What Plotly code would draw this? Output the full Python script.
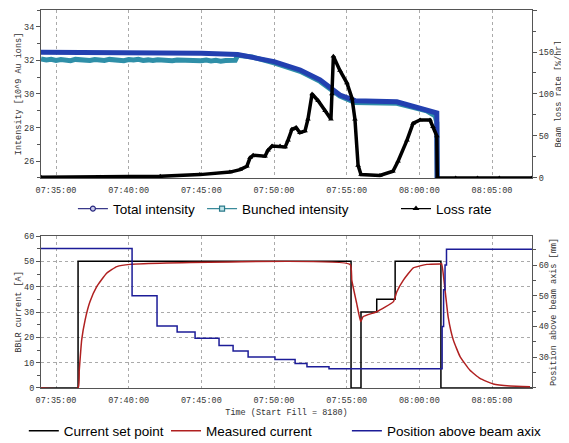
import plotly.graph_objects as go

DAY = "2009-01-01 "

# ---------------- top panel data ----------------
total_t = ["07:33:58", "07:38:00", "07:42:00", "07:45:00", "07:47:30", "07:50:00", "07:51:48",
           "07:53:10", "07:54:32", "07:55:14", "07:55:35", "07:58:27", "07:59:21", "08:01:12", "08:01:14"]
total_v = [32.48, 32.47, 32.45, 32.42, 32.35, 31.93, 31.43, 30.84, 29.94, 29.76, 29.60, 29.54, 29.34, 28.87, 24.0]

bunch_t = ["07:33:58", "07:34:20", "07:34:40", "07:35:00", "07:35:20", "07:35:40", "07:36:00", "07:36:20",
           "07:36:40", "07:37:00", "07:37:20", "07:37:40", "07:38:00", "07:38:20", "07:38:40", "07:39:00",
           "07:39:20", "07:39:40", "07:40:00", "07:40:20", "07:40:40", "07:41:00", "07:41:20", "07:41:40",
           "07:42:00", "07:42:20", "07:42:40", "07:43:00", "07:43:20", "07:43:40", "07:44:00", "07:44:20",
           "07:44:40", "07:45:00", "07:45:20", "07:45:40", "07:46:00", "07:46:20", "07:46:40", "07:47:00",
           "07:47:20", "07:47:30", "07:48:30", "07:50:00", "07:51:48", "07:53:10",
           "07:54:32", "07:55:35", "07:57:00", "07:58:27", "07:59:21", "08:00:30", "08:01:05", "08:01:12", "08:01:14"]
bunch_v = [32.08, 32.02, 32.06, 32.00, 32.05, 32.03, 31.98, 32.06, 32.02, 32.04, 31.99, 32.05, 32.03,
           32.00, 32.06, 32.02, 32.04, 31.98, 32.05, 32.02, 32.07, 32.00, 32.03, 31.99, 32.04, 32.01,
           32.05, 31.98, 32.02, 32.00, 32.03, 31.97, 32.01, 31.98, 32.02, 31.96, 32.00, 31.95, 31.99,
           31.96, 32.00, 32.30, 32.20, 31.85, 31.35, 30.75, 29.88, 29.50, 29.50, 29.45, 29.25, 29.00,
           28.70, 28.30, 24.0]

loss_t = ["07:33:58", "07:38:02", "07:42:10", "07:44:54", "07:46:58", "07:47:40", "07:48:08", "07:48:21",
          "07:48:34", "07:49:23", "07:49:35", "07:49:52", "07:50:25", "07:50:46", "07:50:58", "07:51:14",
          "07:51:31", "07:51:47", "07:52:08", "07:52:20", "07:52:37", "07:53:02", "07:53:31", "07:53:55",
          "07:53:59", "07:54:05", "07:54:32", "07:55:01", "07:55:22", "07:55:34", "07:55:47", "07:55:59",
          "07:57:17", "07:58:11", "07:58:32", "07:59:09", "07:59:34", "08:00:03", "08:00:44", "08:00:56",
          "08:01:12", "08:01:14", "08:02:30", "08:04:00", "08:05:30", "08:07:45"]
loss_v = [1, 1, 2, 4, 7, 10, 14, 24, 27, 26, 33, 38, 38, 37, 45, 58, 60, 54, 56, 70, 100, 92, 80, 70,
          100, 145, 128, 113, 95, 70, 15, 4, 3, 8, 20, 45, 65, 69, 69, 61, 50, 0, 0, 0, 0, 0]

# ---------------- bottom panel data ----------------
setp_t = ["07:33:58", "07:36:31", "07:55:18", "07:55:59", "07:57:04", "07:58:20", "08:01:29", "08:07:45"]
setp_v = [0, 50, 0, 30, 35, 50, 0, 0]

meas_t = ["07:33:58", "07:36:31", "07:36:36", "07:36:46", "07:37:00", "07:37:20", "07:37:48", "07:38:29",
          "07:39:11", "07:40:05", "07:55:14", "07:55:21", "07:55:41", "07:55:58", "07:56:08", "07:57:04",
          "07:58:13", "07:58:27", "07:58:54", "07:59:35", "08:00:31", "08:01:25", "08:01:32", "08:01:46",
          "08:01:59", "08:02:20", "08:02:48", "08:03:29", "08:04:10", "08:05:05", "08:06:14", "08:07:37"]
meas_v = [0, 0, 7, 19, 26.8, 34, 40, 45.3, 47.9, 48.8, 48.8, 42.6, 33.5, 26.2, 28.2, 30.1,
          34.1, 38, 42.6, 47.4, 48.8, 49.0, 49.0, 38.7, 28, 19, 12.4, 7, 3.8, 1.6, 0.8, 0.5]

pos_t = ["07:33:58", "07:40:14", "07:41:57", "07:43:20", "07:44:34", "07:46:13", "07:47:11", "07:48:13",
         "07:50:04", "07:51:27", "07:52:16", "07:53:47", "08:01:34", "08:01:40", "08:01:46", "08:01:52", "08:07:45"]
pos_v = [65.4, 50.0, 40.1, 38.2, 36.1, 33.8, 32.0, 30.0, 29.2, 27.9, 26.8, 26.2, 40, 52, 60, 65.2, 65.2]

x_range = ["07:33:58", "08:07:45"]
time_tick0 = "07:35:00"


def ts(lst):
    return [DAY + s for s in lst]


MONO = "Liberation Mono"
SANS = "Liberation Sans, Arial"
tickfont = dict(family=MONO, size=8.5, color="#333")
titlefont = dict(family=MONO, size=8.5, color="#333")

C_TOTAL = "#2340b0"
C_BUNCH = "#2f8fa8"
C_RED = "#b02020"
C_POS = "#1c1c98"

fig = go.Figure()

# data traces (legend entries drawn by thin legend-only twins below)
fig.add_trace(go.Scatter(x=ts(bunch_t), y=bunch_v, name="Bunched intensity", mode="lines",
                         line=dict(color=C_BUNCH, width=5), showlegend=False,
                         xaxis="x", yaxis="y"))
fig.add_trace(go.Scatter(x=ts(total_t), y=total_v, name="Total intensity", mode="lines",
                         line=dict(color=C_TOTAL, width=5), showlegend=False,
                         xaxis="x", yaxis="y"))
fig.add_trace(go.Scatter(x=ts(loss_t), y=loss_v, name="Loss rate", mode="lines+markers",
                         line=dict(color="black", width=3.5),
                         marker=dict(symbol="triangle-up", size=5, color="black"), showlegend=False,
                         xaxis="x", yaxis="y2"))

fig.add_trace(go.Scatter(x=ts(setp_t), y=setp_v, name="Current set point", mode="lines",
                         line=dict(color="black", width=1.5, shape="hv"),
                         xaxis="x2", yaxis="y3", legend="legend5"))
fig.add_trace(go.Scatter(x=ts(meas_t), y=meas_v, name="Measured current", mode="lines",
                         line=dict(color=C_RED, width=1.5, shape="spline", smoothing=0.4),
                         xaxis="x2", yaxis="y3", legend="legend6"))
fig.add_trace(go.Scatter(x=ts(pos_t), y=pos_v, name="Position above beam axix", mode="lines",
                         line=dict(color=C_POS, width=1.5, shape="hv"),
                         xaxis="x2", yaxis="y4", legend="legend7"))

# thin legend entries for the top panel
fig.add_trace(go.Scatter(x=[None], y=[None], name="Total intensity", mode="lines+markers",
                         line=dict(color="#3a3a8a", width=1.2),
                         marker=dict(symbol="circle", size=5, color="#c8c8e8",
                                     line=dict(color="#2a2a80", width=1.2)),
                         xaxis="x", yaxis="y", legend="legend2"))
fig.add_trace(go.Scatter(x=[None], y=[None], name="Bunched intensity", mode="lines+markers",
                         line=dict(color="#3a8a9a", width=1.2),
                         marker=dict(symbol="square", size=5, color="#c0e4e8",
                                     line=dict(color="#2a7a8a", width=1.2)),
                         xaxis="x", yaxis="y", legend="legend3"))
fig.add_trace(go.Scatter(x=[None], y=[None], name="Loss rate", mode="lines+markers",
                         line=dict(color="black", width=1.2),
                         marker=dict(symbol="triangle-up", size=6, color="black"),
                         xaxis="x", yaxis="y2", legend="legend4"))

xcommon = dict(type="date", range=ts(x_range), tickformat="%H:%M:%S", dtick=300000,
               tick0=DAY + time_tick0, tickfont=tickfont, showgrid=True, gridcolor="#aaa",
               griddash="dot", gridwidth=1, showline=True, linecolor="#555", mirror=True,
               ticks="", zeroline=False, ticklabelstandoff=4)

ycommon = dict(tickfont=tickfont, showline=True, linecolor="#555", ticks="outside",
               ticklen=4, tickcolor="#555", zeroline=False)

leg = dict(orientation="h", font=dict(family=SANS, size=13.5, color="black"),
           bgcolor="rgba(0,0,0,0)", xanchor="left", yanchor="middle", itemwidth=30,
           borderwidth=0)

top_leg_y = 0.474
bot_leg_y = -0.114

# page has an 8px body margin, so the figure margins are offset by 8px
fig.update_layout(
    width=569, height=443, margin=dict(l=33, r=45, t=2, b=63, autoexpand=False),
    paper_bgcolor="white", plot_bgcolor="white",
    xaxis=dict(xcommon, domain=[0, 1], anchor="y"),
    yaxis=dict(ycommon, domain=[0.5556, 1], range=[25, 35], tickvals=[26, 28, 30, 32, 34],
               minor=dict(dtick=1, ticks="outside", ticklen=3, tickcolor="#555"), showgrid=False,
               title=dict(text="Intensity [10^9 Au ions]", font=titlefont, standoff=1)),
    yaxis2=dict(ycommon, overlaying="y", side="right", anchor="x", range=[0, 200], dtick=50,
                minor=dict(dtick=25, ticks="outside", ticklen=3, tickcolor="#555"), showgrid=False,
                title=dict(text="Beam loss rate [%/hr]", font=titlefont, standoff=0)),
    xaxis2=dict(xcommon, domain=[0, 1], anchor="y3",
                title=dict(text="Time (Start Fill = 8180)", font=titlefont, standoff=3)),
    yaxis3=dict(ycommon, domain=[0, 0.4021], range=[0, 60], dtick=10,
                minor=dict(dtick=5, ticks="outside", ticklen=3, tickcolor="#555"),
                showgrid=True, gridcolor="#aaa", griddash="dot",
                title=dict(text="BBLR current [A]", font=titlefont, standoff=1)),
    yaxis4=dict(ycommon, overlaying="y3", side="right", anchor="x2", range=[19.9, 69.5],
                tickvals=[30, 40, 50, 60],
                minor=dict(dtick=5, ticks="outside", ticklen=3, tickcolor="#555"), showgrid=False,
                title=dict(text="Position above beam axis [mm]", font=titlefont, standoff=1)),
    legend2=dict(leg, x=0.065, y=top_leg_y),
    legend3=dict(leg, x=0.328, y=top_leg_y),
    legend4=dict(leg, x=0.723, y=top_leg_y),
    legend5=dict(leg, x=-0.035, y=bot_leg_y),
    legend6=dict(leg, x=0.2546, y=bot_leg_y),
    legend7=dict(leg, x=0.623, y=bot_leg_y),
)

fig.write_html("out.html")
